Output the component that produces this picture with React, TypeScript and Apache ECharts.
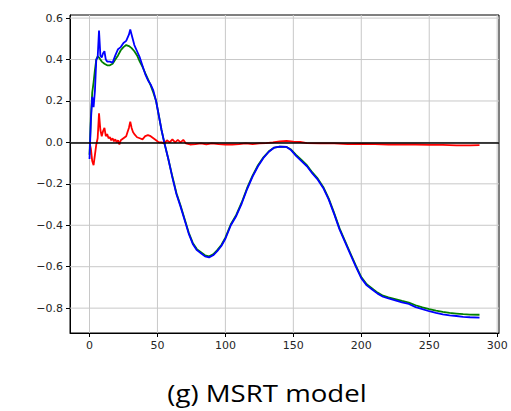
import React, { useEffect, useRef } from "react";
import * as echarts from "echarts";

const xTicks = [0, 50, 100, 150, 200, 250, 300];
const yTicks = [-0.8, -0.6, -0.4, -0.2, 0.0, 0.2, 0.4, 0.6];
const titleText = "(g) MSRT model";

// [x, value] pairs
const bluePred: [number, number][] = [
  [0, -0.08], [1, 0.1], [2, 0.22], [3, 0.17], [4, 0.25], [5, 0.4], [6, 0.41], [7, 0.54], [8, 0.42],
  [9, 0.41], [10, 0.43], [11, 0.44], [12, 0.4], [13, 0.39], [15, 0.39], [17, 0.385], [19, 0.42],
  [21, 0.45], [23, 0.46], [25, 0.48], [27, 0.49], [29, 0.52], [30, 0.545], [31, 0.52], [33, 0.47],
  [35, 0.44], [37, 0.41], [39, 0.37], [41, 0.33], [43, 0.3], [45, 0.28], [47, 0.25], [49, 0.2],
  [51, 0.13], [53, 0.06], [55, 0.0], [58, -0.08], [61, -0.17], [64, -0.25], [67, -0.31], [70, -0.375],
  [73, -0.44], [76, -0.49], [79, -0.52], [82, -0.535], [85, -0.55], [88, -0.555], [91, -0.545],
  [94, -0.525], [97, -0.5], [100, -0.465], [104, -0.4], [108, -0.355], [112, -0.295], [116, -0.225],
  [120, -0.165], [124, -0.115], [128, -0.075], [132, -0.045], [136, -0.025], [140, -0.02], [145, -0.022],
  [148, -0.035], [152, -0.065], [156, -0.09], [160, -0.115], [164, -0.15], [168, -0.18], [172, -0.22],
  [176, -0.275], [180, -0.345], [184, -0.42], [188, -0.48], [192, -0.54], [196, -0.6], [200, -0.655],
  [204, -0.69], [208, -0.71], [212, -0.73], [216, -0.745], [220, -0.753], [225, -0.762], [230, -0.772],
  [235, -0.78], [240, -0.795], [245, -0.805], [250, -0.815], [255, -0.823], [260, -0.83], [265, -0.835],
  [270, -0.838], [275, -0.842], [280, -0.844], [287, -0.846],
];

const greenTrue: [number, number][] = [
  [0, -0.06], [1, 0.12], [2, 0.24], [3, 0.29], [4, 0.35], [5, 0.4], [6, 0.415], [7, 0.41], [9, 0.39],
  [11, 0.38], [13, 0.372], [15, 0.372], [17, 0.38], [19, 0.4], [21, 0.42], [23, 0.445], [25, 0.46],
  [27, 0.47], [29, 0.465], [31, 0.455], [33, 0.44], [35, 0.42], [37, 0.39], [39, 0.365], [41, 0.335],
  [43, 0.305], [45, 0.275], [47, 0.24], [49, 0.2], [51, 0.13], [53, 0.06], [55, 0.0], [58, -0.08],
  [61, -0.165], [64, -0.245], [67, -0.305], [70, -0.37], [73, -0.435], [76, -0.485], [79, -0.515],
  [82, -0.53], [85, -0.545], [88, -0.55], [91, -0.54], [94, -0.52], [97, -0.495], [100, -0.46],
  [104, -0.395], [108, -0.35], [112, -0.29], [116, -0.22], [120, -0.16], [124, -0.11], [128, -0.072],
  [132, -0.043], [136, -0.025], [140, -0.02], [145, -0.022], [148, -0.033], [152, -0.06], [156, -0.085],
  [160, -0.11], [164, -0.145], [168, -0.175], [172, -0.215], [176, -0.27], [180, -0.34], [184, -0.415],
  [188, -0.475], [192, -0.535], [196, -0.595], [200, -0.65], [204, -0.685], [208, -0.705], [212, -0.725],
  [216, -0.74], [220, -0.748], [225, -0.756], [230, -0.765], [235, -0.773], [240, -0.786], [245, -0.796],
  [250, -0.805], [255, -0.812], [260, -0.818], [265, -0.823], [270, -0.826], [275, -0.829], [280, -0.831],
  [287, -0.832],
];

const redError: [number, number][] = [
  [0, 0.0], [1, -0.03], [2, -0.09], [3, -0.11], [4, -0.06], [5, -0.01], [6, 0.02], [7, 0.14], [8, 0.06],
  [9, 0.03], [10, 0.055], [11, 0.07], [12, 0.03], [13, 0.04], [14, 0.02], [15, 0.025], [16, 0.01],
  [17, 0.02], [18, 0.005], [19, 0.015], [20, 0.0], [21, 0.01], [22, -0.01], [23, 0.01], [25, 0.02],
  [27, 0.03], [28, 0.05], [29, 0.07], [30, 0.1], [31, 0.07], [32, 0.05], [33, 0.04], [35, 0.025],
  [37, 0.02], [39, 0.015], [41, 0.03], [43, 0.035], [45, 0.03], [47, 0.02], [49, 0.01], [51, 0.0],
  [53, 0.0], [55, -0.005], [57, 0.01], [59, 0.0], [61, 0.015], [63, 0.0], [65, 0.012], [67, 0.0],
  [69, 0.012], [71, -0.005], [74, -0.01], [78, -0.008], [82, -0.005], [86, -0.01], [90, -0.005],
  [95, -0.008], [100, -0.01], [105, -0.01], [110, -0.008], [115, -0.005], [120, -0.008], [125, -0.005],
  [130, -0.003], [135, 0.0], [140, 0.005], [145, 0.007], [150, 0.004], [155, 0.002], [160, -0.003],
  [170, -0.005], [180, -0.005], [190, -0.008], [200, -0.007], [210, -0.008], [220, -0.01], [230, -0.01],
  [240, -0.01], [250, -0.012], [260, -0.012], [270, -0.014], [280, -0.014], [287, -0.013],
];

const X_MIN = -14.35;
const X_MAX = 301.35;
const Y_MIN = -0.92;
const Y_MAX = 0.615;

const fmtY = (v: number) => {
  const s = Math.abs(v).toFixed(1);
  return v < -1e-9 ? "\u2212" + s : s;
};

export default function App() {
  const ref = useRef<HTMLDivElement>(null);
  useEffect(() => {
    if (!ref.current) return;
    const chart = echarts.init(ref.current, null, { renderer: "svg" });
    const labelStyle = { color: "#262626", fontSize: 11, fontFamily: "DejaVu Sans" };
    const lineSeries = (name: string, data: [number, number][], color: string, z: number) => ({
      name,
      type: "line",
      data,
      showSymbol: false,
      symbol: "none",
      z,
      lineStyle: { color, width: 1.8 },
      silent: true,
    });
    const gridStyle = { stroke: "#c8c8c8", lineWidth: 1 };
    chart.setOption({
      animation: false,
      backgroundColor: "#ffffff",
      grid: {
        left: 70, top: 15, right: 12, bottom: 78,
        show: true, borderColor: "#000", borderWidth: 1, backgroundColor: "#fff",
      },
      xAxis: {
        type: "value",
        min: X_MIN,
        max: X_MAX,
        axisLine: { show: true, onZero: false, lineStyle: { color: "#000", width: 1 } },
        axisTick: { show: true, length: 4, lineStyle: { color: "#000" }, customValues: xTicks },
        axisLabel: { ...labelStyle, margin: 7, customValues: xTicks, formatter: (v: number) => String(v) },
        splitLine: { show: false },
      },
      yAxis: {
        type: "value",
        min: Y_MIN,
        max: Y_MAX,
        axisLine: { show: true, onZero: false, lineStyle: { color: "#000", width: 1 } },
        axisTick: { show: true, length: 4, lineStyle: { color: "#000" }, customValues: yTicks },
        axisLabel: { ...labelStyle, margin: 7, customValues: yTicks, formatter: fmtY },
        splitLine: { show: false },
      },
      series: [
        {
          name: "xgrid",
          type: "custom",
          z: 1,
          silent: true,
          data: xTicks.filter((v) => v <= X_MAX).map((v) => [v, 0]),
          renderItem: (_p: any, api: any) => {
            const a = api.coord([api.value(0), Y_MIN]);
            const b = api.coord([api.value(0), Y_MAX]);
            return { type: "line", shape: { x1: a[0], y1: a[1], x2: b[0], y2: b[1] }, style: gridStyle };
          },
        },
        {
          name: "ygrid",
          type: "custom",
          z: 1,
          silent: true,
          data: yTicks.map((v) => [0, v]),
          renderItem: (_p: any, api: any) => {
            const a = api.coord([X_MIN, api.value(1)]);
            const b = api.coord([X_MAX, api.value(1)]);
            return { type: "line", shape: { x1: a[0], y1: a[1], x2: b[0], y2: b[1] }, style: gridStyle };
          },
        },
        lineSeries("error", redError, "#ff0000", 2),
        lineSeries("true", greenTrue, "#008000", 3),
        {
          ...lineSeries("pred", bluePred, "#0000ff", 4),
          markLine: {
            silent: true,
            symbol: "none",
            label: { show: false },
            lineStyle: { color: "#000", width: 1.5, type: "solid" },
            data: [{ yAxis: 0 }],
            z: 5,
          },
        },
      ],
      graphic: [
        {
          type: "text",
          x: 267,
          y: 393,
          scaleX: 1.15,
          style: {
            text: titleText,
            fontFamily: "Open Sans",
            fontSize: 24,
            fill: "#000",
            textAlign: "center",
            textVerticalAlign: "middle",
          },
        },
      ],
    });
    return () => chart.dispose();
  }, []);
  return (
    <div
      ref={ref}
      style={{ position: "fixed", left: 0, top: 0, width: 511, height: 411, background: "#fff" }}
    />
  );
}
